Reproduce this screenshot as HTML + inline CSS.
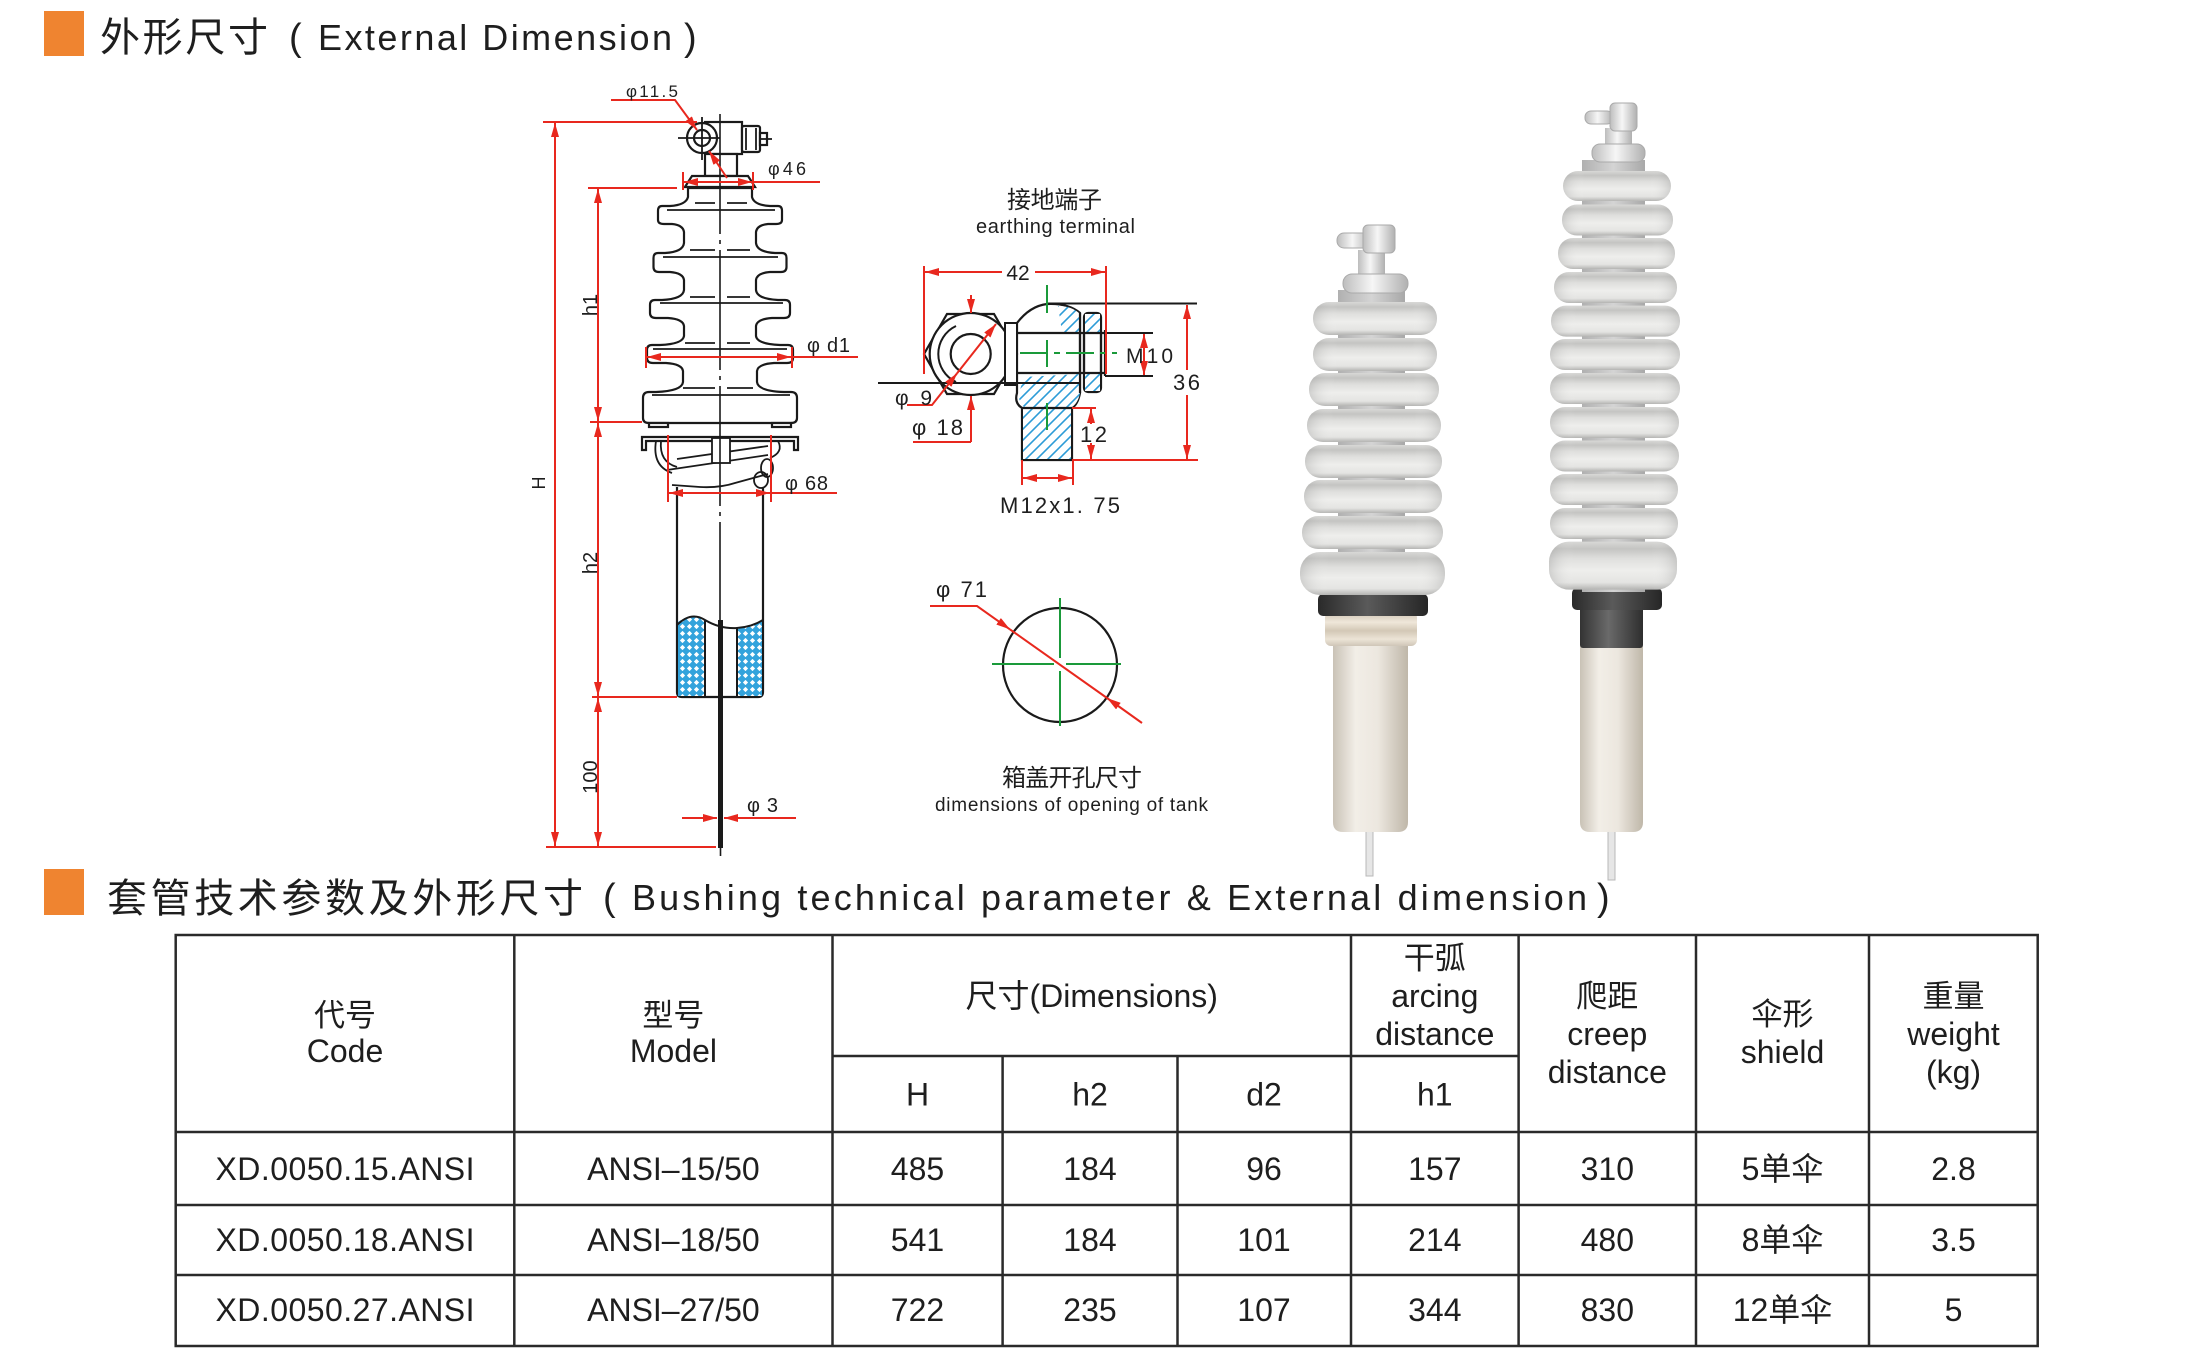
<!DOCTYPE html>
<html><head><meta charset="utf-8">
<style>
html,body{margin:0;padding:0;background:#fff;}
svg{display:block;}
text{font-family:"Liberation Sans","Noto Sans CJK SC",sans-serif;fill:#1e1e1e;}
</style></head><body>
<svg width="2205" height="1372" viewBox="0 0 2205 1372" xmlns="http://www.w3.org/2000/svg">
<defs>
<marker id="a" viewBox="0 0 14 8" refX="14" refY="4" markerWidth="14" markerHeight="8" markerUnits="userSpaceOnUse" orient="auto-start-reverse"><path d="M0,0 L14,4 L0,8 z" fill="#e8281e"/></marker>
<pattern id="xh" width="7" height="7" patternUnits="userSpaceOnUse"><rect width="7" height="7" fill="#33a3dc"/><path d="M3.5,0.9 L6.1,3.5 L3.5,6.1 L0.9,3.5 Z" fill="#fff"/></pattern>
<pattern id="dh" width="11" height="11" patternUnits="userSpaceOnUse"><rect width="11" height="11" fill="#fff"/><path d="M0,11 L11,0 M-2,2 L2,-2 M9,13 L13,9" stroke="#2d9cd7" stroke-width="1.6"/></pattern>
<linearGradient id="gShed" x1="0" y1="0" x2="0" y2="1">
<stop offset="0" stop-color="#d8d8d6"/><stop offset="0.15" stop-color="#c4c4c2"/><stop offset="0.35" stop-color="#dfdfdd"/><stop offset="0.6" stop-color="#eeeeec"/><stop offset="0.85" stop-color="#e4e4e2"/><stop offset="1" stop-color="#b4b4b2"/>
</linearGradient>
<linearGradient id="gSide" x1="0" y1="0" x2="1" y2="0">
<stop offset="0" stop-color="#888" stop-opacity="0.3"/><stop offset="0.2" stop-color="#fff" stop-opacity="0"/><stop offset="0.8" stop-color="#fff" stop-opacity="0"/><stop offset="1" stop-color="#888" stop-opacity="0.3"/>
</linearGradient>
<linearGradient id="gCore" x1="0" y1="0" x2="1" y2="0">
<stop offset="0" stop-color="#b0b0b0"/><stop offset="0.5" stop-color="#d4d4d4"/><stop offset="1" stop-color="#a8a8a8"/>
</linearGradient>
<linearGradient id="gTube" x1="0" y1="0" x2="1" y2="0">
<stop offset="0" stop-color="#c9c2b6"/><stop offset="0.3" stop-color="#f2eee7"/><stop offset="0.6" stop-color="#ece7df"/><stop offset="1" stop-color="#bfb7a9"/>
</linearGradient>
<linearGradient id="gThread" x1="0" y1="0" x2="0" y2="1">
<stop offset="0" stop-color="#cfc4b2"/><stop offset="0.3" stop-color="#efe7da"/><stop offset="0.55" stop-color="#d3c8b6"/><stop offset="0.8" stop-color="#ece4d6"/><stop offset="1" stop-color="#cfc6b8"/>
</linearGradient>
<linearGradient id="gDark" x1="0" y1="0" x2="1" y2="0">
<stop offset="0" stop-color="#2a2a2a"/><stop offset="0.45" stop-color="#5a5a5a"/><stop offset="1" stop-color="#262626"/>
</linearGradient>
<linearGradient id="gDark2" x1="0" y1="0" x2="1" y2="0">
<stop offset="0" stop-color="#333"/><stop offset="0.45" stop-color="#6a6a6a"/><stop offset="1" stop-color="#2e2e2e"/>
</linearGradient>
<linearGradient id="gMetal" x1="0" y1="0" x2="1" y2="0">
<stop offset="0" stop-color="#bdbdbd"/><stop offset="0.45" stop-color="#f6f6f6"/><stop offset="1" stop-color="#b0b0b0"/>
</linearGradient>
</defs>

<!-- ===== Titles ===== -->
<rect x="44" y="11" width="40" height="45" fill="#ef8430"/>
<text x="100" y="51" font-size="40" textLength="168">外形尺寸</text>
<text x="289" y="50" font-size="38">(</text>
<text x="318" y="50" font-size="36" textLength="354">External Dimension</text>
<text x="684" y="50" font-size="38">)</text>

<rect x="44" y="869" width="40" height="46" fill="#ef8430"/>
<text x="107" y="912" font-size="40" textLength="476">套管技术参数及外形尺寸</text>
<text x="603" y="910" font-size="38">(</text>
<text x="632" y="910" font-size="36" textLength="955">Bushing technical parameter &amp; External dimension</text>
<text x="1597" y="910" font-size="38">)</text>

<!-- ===== Left drawing: bushing ===== -->
<g stroke="#1a1a1a" stroke-width="2.2" fill="#fff">
<rect x="705" y="122" width="37" height="32"/>
<rect x="742" y="126" width="18" height="26" rx="2"/>
<rect x="760" y="133" width="7" height="12"/>
<rect x="705" y="154" width="32" height="22"/>
<circle cx="702" cy="138" r="15"/>
<circle cx="702" cy="138" r="8"/>
<path d="M692 176 L748 176 Q752 182 755 187 L685 187 Q688 182 692 176 Z"/>
<path d="M688 188 L752 188 L752 197 Q754 205 770 206 L778 206 Q782 206 782 211 L782 220 Q782 224 776 224 L768 224 Q757 225 756 232 L756 243 Q757 252 775 253 L782 253 Q786.5 253 786.5 258 L786.5 267 Q786.5 272 781 272 L770 272 Q757 273 756 280 L756 290 Q757 299 778 300 L785 300 Q790 300 790 305 L790 313 Q790 318 784 318 L772 318 Q757 319 756 326 L756 336 Q757 344 780 345 L788 345 Q793 345 793 350 L793 358 Q793 363 787 363 L774 363 Q758 364 757 371 L757 382 Q758 391 784 392 L791 392 Q797 392 797 398 L797 418 Q797 423 791 423 L649 423 Q643 423 643 418 L643 398 Q643 392 649 392 L656 392 Q682 391 683 382 L683 371 Q682 364 666 363 L653 363 Q647 363 647 358 L647 350 Q647 345 652 345 L660 345 Q683 344 684 336 L684 326 Q683 319 668 318 L656 318 Q650 318 650 313 L650 305 Q650 300 655 300 L662 300 Q683 299 684 290 L684 280 Q683 273 670 272 L659 272 Q653.5 272 653.5 267 L653.5 258 Q653.5 253 658 253 L665 253 Q683 252 684 243 L684 232 Q683 225 672 224 L664 224 Q658 224 658 220 L658 211 Q658 206 662 206 L670 206 Q686 205 688 197 Z"/>
<rect x="649" y="423" width="19" height="4"/>
<rect x="772" y="423" width="19" height="4"/>
<path d="M642 450 L642 437 L798 437 L798 450 L794 450 L794 441 L646 441 L646 450 Z"/>
<path d="M677 487 L677 692 Q677 697 682 697 L758 697 Q763 697 763 692 L763 487"/>
</g>
<g stroke="#1a1a1a" stroke-width="1.8" fill="none">
<line x1="678" y1="138" x2="720" y2="138"/>
<line x1="702" y1="117" x2="702" y2="160"/>
<line x1="760" y1="139" x2="772" y2="139"/>
<line x1="746" y1="128" x2="746" y2="150"/>
<line x1="756" y1="128" x2="756" y2="150"/>
<path d="M695 203 L715 203 M727 203 L747 203 M667 210 L775 210"/>
<path d="M690 250 L715 250 M727 250 L750 250 M663 257 L778 257"/>
<path d="M690 297 L715 297 M727 297 L750 297 M660 303 L783 303"/>
<path d="M685 343 L715 343 M727 343 L750 343 M653 349 L787 349"/>
<path d="M683 388 L715 388 M727 388 L753 388 M652 395 L790 395"/>
<path d="M656 441 Q652 466 672 473"/>
<path d="M661 441 Q659 462 677 467"/>
<line x1="677" y1="459" x2="768" y2="446"/>
<line x1="667" y1="470" x2="768" y2="455"/>
<path d="M672 485 L700 487 Q720 488 735 483 L768 474"/>
<path d="M778 441 Q784 452 770 458"/>
<ellipse cx="767" cy="468" rx="6" ry="9"/>
<ellipse cx="761" cy="480" rx="7" ry="8"/>
</g>
<rect x="712" y="438" width="18" height="25" fill="#fff" stroke="#1a1a1a" stroke-width="1.8"/>
<path d="M678 622 Q690 612 705 621 L705 696 L678 696 Z" fill="url(#xh)"/>
<path d="M737 628 Q750 627 762 620 L762 696 L737 696 Z" fill="url(#xh)"/>
<g stroke="#1a1a1a" stroke-width="2" fill="none">
<path d="M677 625 Q691 611 705 620 Q720 629 737 628 Q752 627 763 620"/>
<line x1="705" y1="620" x2="705" y2="697"/>
<line x1="737" y1="628" x2="737" y2="697"/>
</g>
<line x1="720" y1="114" x2="720" y2="620" stroke="#1a1a1a" stroke-width="1.6" stroke-dasharray="120 6 4 6"/>
<rect x="718" y="620" width="5" height="228" fill="#1a1a1a"/>
<line x1="720.5" y1="848" x2="720.5" y2="856" stroke="#1a1a1a" stroke-width="1.6"/>

<g fill="none" stroke="#e8281e" stroke-width="2">
<line x1="543" y1="122" x2="697" y2="122"/>
<line x1="555" y1="123" x2="555" y2="846" marker-start="url(#a)" marker-end="url(#a)"/>
<line x1="546" y1="847" x2="716" y2="847"/>
<line x1="588" y1="188" x2="677" y2="188"/>
<line x1="598" y1="189" x2="598" y2="421" marker-start="url(#a)" marker-end="url(#a)"/>
<line x1="590" y1="422" x2="642" y2="422"/>
<line x1="598" y1="423" x2="598" y2="696" marker-start="url(#a)" marker-end="url(#a)"/>
<line x1="592" y1="697" x2="677" y2="697"/>
<line x1="598" y1="698" x2="598" y2="846" marker-start="url(#a)" marker-end="url(#a)"/>
<polyline points="611,100 675,100 697,130" marker-end="url(#a)"/>
<line x1="727" y1="178" x2="709" y2="151" marker-end="url(#a)"/>
<line x1="683" y1="172" x2="683" y2="190"/>
<line x1="753" y1="172" x2="753" y2="190"/>
<line x1="684" y1="182" x2="752" y2="182" marker-start="url(#a)" marker-end="url(#a)"/>
<line x1="753" y1="182" x2="820" y2="182"/>
<line x1="646" y1="347" x2="646" y2="368"/>
<line x1="792" y1="347" x2="792" y2="368"/>
<line x1="647" y1="357" x2="791" y2="357" marker-start="url(#a)" marker-end="url(#a)"/>
<line x1="792" y1="357" x2="858" y2="357"/>
<line x1="668" y1="435" x2="668" y2="502"/>
<line x1="771" y1="435" x2="771" y2="502"/>
<line x1="669" y1="493" x2="770" y2="493" marker-start="url(#a)" marker-end="url(#a)"/>
<line x1="771" y1="493" x2="837" y2="493"/>
<line x1="682" y1="818" x2="717" y2="818" marker-end="url(#a)"/>
<line x1="796" y1="818" x2="724" y2="818" marker-end="url(#a)"/>
</g>
<text x="626" y="97" font-size="17" textLength="52">φ11.5</text>
<text x="768" y="175" font-size="18" textLength="38">φ46</text>
<text x="807" y="352" font-size="20" textLength="43">φ d1</text>
<text x="785" y="490" font-size="20" textLength="43">φ 68</text>
<text x="747" y="812" font-size="20" textLength="31">φ 3</text>
<text transform="translate(545,483) rotate(-90)" font-size="18" text-anchor="middle">H</text>
<text transform="translate(597,305) rotate(-90)" font-size="20" text-anchor="middle">h1</text>
<text transform="translate(597,563) rotate(-90)" font-size="20" text-anchor="middle">h2</text>
<text transform="translate(597,777) rotate(-90)" font-size="20" text-anchor="middle">100</text>

<!-- ===== Earthing terminal ===== -->
<text x="1007" y="208" font-size="24" textLength="95">接地端子</text>
<text x="976" y="233" font-size="20" textLength="159">earthing terminal</text>
<g stroke="#1a1a1a" stroke-width="2.2" fill="#fff">
<path d="M1017 323 Q1030 306 1047 304 Q1068 303 1080 313 L1080 393 Q1078 404 1072 408 L1072 460 L1022 460 L1022 408 Q1014 403 1017 393 Z"/>
</g>
<path d="M1058 306 Q1072 306 1080 314 L1080 332 L1062 332 Z" fill="url(#dh)"/>
<path d="M1024 377 L1080 374 L1080 393 Q1078 403 1072 407 L1024 407 Q1018 402 1019 393 Z" fill="url(#dh)"/>
<path d="M1023 409 L1071 409 L1071 459 L1023 459 Z" fill="url(#dh)"/>
<g stroke="#1a1a1a" stroke-width="2.2" fill="#fff">
<rect x="1084" y="313" width="17" height="79" rx="4"/>
</g>
<rect x="1085" y="314" width="15" height="18" fill="url(#dh)"/>
<rect x="1085" y="374" width="15" height="17" fill="url(#dh)"/>
<g stroke="#1a1a1a" stroke-width="2.2" fill="none">
<line x1="1022" y1="408" x2="1072" y2="408"/>
<line x1="1080" y1="313" x2="1080" y2="393"/>
<line x1="1005" y1="333" x2="1105" y2="333"/>
<line x1="1005" y1="373" x2="1105" y2="373"/>
<line x1="1105" y1="330" x2="1105" y2="376"/>
<line x1="1084" y1="333" x2="1084" y2="373"/>
<line x1="1101" y1="333" x2="1101" y2="373"/>
</g>
<polygon points="924,354 947,314 994,314 1017,354 994,394 947,394" fill="#fff" stroke="#1a1a1a" stroke-width="2.2"/>
<circle cx="970.7" cy="354" r="41" fill="#fff" stroke="#1a1a1a" stroke-width="2.2"/>
<path d="M956 326 A31 31 0 0 0 956 382" fill="none" stroke="#1a1a1a" stroke-width="2"/>
<circle cx="970.7" cy="354" r="20" fill="#fff" stroke="#1a1a1a" stroke-width="2.2"/>
<rect x="1005" y="323" width="12" height="62" fill="#fff" stroke="#1a1a1a" stroke-width="2"/>
<line x1="878" y1="383" x2="1080" y2="383" stroke="#1a1a1a" stroke-width="2"/>
<g stroke="#1a1a1a" stroke-width="2">
<line x1="1047" y1="303.5" x2="1197" y2="303.5"/>
<line x1="1105" y1="333" x2="1153" y2="333"/>
<line x1="1105" y1="376" x2="1153" y2="376"/>
</g>
<g stroke="#1a9a3a" stroke-width="2" fill="none">
<line x1="1047" y1="285" x2="1047" y2="313"/>
<line x1="1020" y1="353" x2="1117" y2="353" stroke-dasharray="28 6 6 6"/>
<line x1="1047" y1="340" x2="1047" y2="367"/>
<line x1="1047" y1="403" x2="1047" y2="430"/>
</g>
<g fill="none" stroke="#e8281e" stroke-width="2">
<line x1="924" y1="266" x2="924" y2="374"/>
<line x1="1106" y1="266" x2="1106" y2="374"/>
<line x1="925" y1="272" x2="1002" y2="272" marker-start="url(#a)"/>
<line x1="1035" y1="272" x2="1105" y2="272" marker-end="url(#a)"/>
<line x1="1144" y1="334" x2="1144" y2="375" marker-start="url(#a)" marker-end="url(#a)"/>
<line x1="1187" y1="305" x2="1187" y2="370" marker-start="url(#a)"/>
<line x1="1187" y1="395" x2="1187" y2="459" marker-end="url(#a)"/>
<line x1="1072" y1="460" x2="1198" y2="460"/>
<line x1="1072" y1="408" x2="1096" y2="408"/>
<line x1="1091" y1="409" x2="1091" y2="424" marker-start="url(#a)"/>
<line x1="1091" y1="443" x2="1091" y2="459" marker-end="url(#a)"/>
<line x1="1022" y1="460" x2="1022" y2="485"/>
<line x1="1073" y1="460" x2="1073" y2="485"/>
<line x1="1023" y1="478" x2="1072" y2="478" marker-start="url(#a)" marker-end="url(#a)"/>
<line x1="971" y1="295" x2="971" y2="313" marker-end="url(#a)"/>
<line x1="971" y1="442" x2="971" y2="396" marker-end="url(#a)"/>
<line x1="913" y1="442" x2="971" y2="442"/>
<polyline points="907,405 932,405 957,373.4" marker-end="url(#a)"/>
<line x1="957" y1="373.4" x2="996" y2="324" marker-end="url(#a)"/>
</g>
<text x="1018" y="280" font-size="21" text-anchor="middle">42</text>
<text x="1126" y="363" font-size="21" textLength="47">M10</text>
<text x="1173" y="390" font-size="22" textLength="27">36</text>
<text x="1080" y="442" font-size="22" textLength="27">12</text>
<text x="895" y="405" font-size="21" textLength="37">φ 9</text>
<text x="912" y="435" font-size="22" textLength="51">φ 18</text>
<text x="1000" y="513" font-size="22" textLength="120">M12x1. 75</text>

<!-- ===== Tank opening ===== -->
<circle cx="1060" cy="665" r="57" fill="none" stroke="#1a1a1a" stroke-width="2.2"/>
<g stroke="#1a9a3a" stroke-width="2">
<line x1="1060" y1="598" x2="1060" y2="658"/>
<line x1="1060" y1="671" x2="1060" y2="726"/>
<line x1="992" y1="664" x2="1054" y2="664"/>
<line x1="1066" y1="664" x2="1121" y2="664"/>
</g>
<g fill="none" stroke="#e8281e" stroke-width="2">
<polyline points="930,606 977,606 1010,629.4" marker-end="url(#a)"/>
<line x1="1010" y1="629.4" x2="1107" y2="698"/>
<line x1="1142" y1="723" x2="1107" y2="698" marker-end="url(#a)"/>
</g>
<text x="936" y="597" font-size="22" textLength="51">φ 71</text>
<text x="1002" y="786" font-size="24" textLength="140">箱盖开孔尺寸</text>
<text x="935" y="811" font-size="19" textLength="273">dimensions of opening of tank</text>

<!-- ===== Photo: left bushing ===== -->
<rect x="1366" y="828" width="7" height="48" fill="#e6e6e6" stroke="#b8b8b8" stroke-width="1"/>
<path d="M1333 641 L1408 641 L1408 822 Q1408 832 1398 832 L1343 832 Q1333 832 1333 822 Z" fill="url(#gTube)"/>
<rect x="1325" y="612" width="92" height="34" rx="6" fill="url(#gThread)"/>
<rect x="1318" y="594" width="110" height="22" rx="5" fill="url(#gDark)"/>
<rect x="1338" y="290" width="67" height="305" fill="url(#gCore)"/>
<rect x="1358" y="250" width="27" height="28" fill="url(#gMetal)"/>
<rect x="1337" y="233" width="34" height="15" rx="7" fill="url(#gMetal)" stroke="#aaa" stroke-width="1"/>
<rect x="1363" y="225" width="32" height="28" rx="5" fill="url(#gMetal)" stroke="#aaa" stroke-width="1"/>
<rect x="1343" y="274" width="65" height="19" rx="9" fill="url(#gMetal)" stroke="#aaa" stroke-width="1"/>
<g>
<rect x="1300" y="552" width="145" height="43" rx="20" fill="url(#gShed)"/><rect x="1300" y="552" width="145" height="43" rx="20" fill="url(#gSide)"/>
<rect x="1302" y="516" width="141" height="33" rx="16" fill="url(#gShed)"/><rect x="1302" y="516" width="141" height="33" rx="16" fill="url(#gSide)"/>
<rect x="1304" y="480" width="138" height="33" rx="16" fill="url(#gShed)"/><rect x="1304" y="480" width="138" height="33" rx="16" fill="url(#gSide)"/>
<rect x="1305" y="445" width="137" height="33" rx="16" fill="url(#gShed)"/><rect x="1305" y="445" width="137" height="33" rx="16" fill="url(#gSide)"/>
<rect x="1307" y="409" width="134" height="33" rx="16" fill="url(#gShed)"/><rect x="1307" y="409" width="134" height="33" rx="16" fill="url(#gSide)"/>
<rect x="1309" y="373" width="130" height="33" rx="16" fill="url(#gShed)"/><rect x="1309" y="373" width="130" height="33" rx="16" fill="url(#gSide)"/>
<rect x="1313" y="338" width="124" height="33" rx="16" fill="url(#gShed)"/><rect x="1313" y="338" width="124" height="33" rx="16" fill="url(#gSide)"/>
<rect x="1313" y="302" width="124" height="33" rx="16" fill="url(#gShed)"/><rect x="1313" y="302" width="124" height="33" rx="16" fill="url(#gSide)"/>
</g>

<!-- ===== Photo: right bushing ===== -->
<rect x="1608" y="828" width="7" height="52" fill="#e6e6e6" stroke="#b8b8b8" stroke-width="1"/>
<path d="M1580 646 L1643 646 L1643 822 Q1643 832 1633 832 L1590 832 Q1580 832 1580 822 Z" fill="url(#gTube)"/>
<rect x="1580" y="606" width="63" height="42" rx="3" fill="url(#gDark2)"/>
<rect x="1572" y="588" width="90" height="22" rx="5" fill="url(#gDark)"/>
<rect x="1582" y="160" width="63" height="432" fill="url(#gCore)"/>
<rect x="1605" y="128" width="27" height="20" fill="url(#gMetal)"/>
<rect x="1585" y="111" width="28" height="13" rx="6" fill="url(#gMetal)" stroke="#aaa" stroke-width="1"/>
<rect x="1610" y="103" width="27" height="28" rx="5" fill="url(#gMetal)" stroke="#aaa" stroke-width="1"/>
<rect x="1592" y="144" width="53" height="18" rx="8" fill="url(#gMetal)" stroke="#aaa" stroke-width="1"/>
<g>
<rect x="1549" y="541.6" width="128" height="48" rx="20" fill="url(#gShed)"/><rect x="1549" y="541.6" width="128" height="48" rx="20" fill="url(#gSide)"/>
<rect x="1550" y="508" width="128" height="31" rx="15" fill="url(#gShed)"/><rect x="1550" y="508" width="128" height="31" rx="15" fill="url(#gSide)"/>
<rect x="1550" y="474" width="128" height="31" rx="15" fill="url(#gShed)"/><rect x="1550" y="474" width="128" height="31" rx="15" fill="url(#gSide)"/>
<rect x="1550" y="440.5" width="129" height="31" rx="15" fill="url(#gShed)"/><rect x="1550" y="440.5" width="129" height="31" rx="15" fill="url(#gSide)"/>
<rect x="1550" y="407" width="129" height="31" rx="15" fill="url(#gShed)"/><rect x="1550" y="407" width="129" height="31" rx="15" fill="url(#gSide)"/>
<rect x="1550" y="373" width="130" height="31" rx="15" fill="url(#gShed)"/><rect x="1550" y="373" width="130" height="31" rx="15" fill="url(#gSide)"/>
<rect x="1550" y="339" width="130" height="31" rx="15" fill="url(#gShed)"/><rect x="1550" y="339" width="130" height="31" rx="15" fill="url(#gSide)"/>
<rect x="1551" y="305.6" width="129" height="31" rx="15" fill="url(#gShed)"/><rect x="1551" y="305.6" width="129" height="31" rx="15" fill="url(#gSide)"/>
<rect x="1554" y="272" width="123" height="31" rx="15" fill="url(#gShed)"/><rect x="1554" y="272" width="123" height="31" rx="15" fill="url(#gSide)"/>
<rect x="1558" y="238" width="117" height="31" rx="15" fill="url(#gShed)"/><rect x="1558" y="238" width="117" height="31" rx="15" fill="url(#gSide)"/>
<rect x="1562" y="204.5" width="111" height="31" rx="15" fill="url(#gShed)"/><rect x="1562" y="204.5" width="111" height="31" rx="15" fill="url(#gSide)"/>
<rect x="1563" y="171" width="108" height="30" rx="15" fill="url(#gShed)"/><rect x="1563" y="171" width="108" height="30" rx="15" fill="url(#gSide)"/>
</g>

<!-- ===== Table ===== -->
<g stroke="#2a2a2a" stroke-width="2.5" fill="none">
<rect x="175.7" y="935" width="1862" height="411"/>
<line x1="175.7" y1="1132" x2="2037.7" y2="1132"/>
<line x1="175.7" y1="1205" x2="2037.7" y2="1205"/>
<line x1="175.7" y1="1275" x2="2037.7" y2="1275"/>
<line x1="832.5" y1="1056" x2="1518.6" y2="1056"/>
<line x1="514.3" y1="935" x2="514.3" y2="1346"/>
<line x1="832.5" y1="935" x2="832.5" y2="1346"/>
<line x1="1002.6" y1="1056" x2="1002.6" y2="1346"/>
<line x1="1177.5" y1="1056" x2="1177.5" y2="1346"/>
<line x1="1351" y1="935" x2="1351" y2="1346"/>
<line x1="1518.6" y1="935" x2="1518.6" y2="1346"/>
<line x1="1696" y1="935" x2="1696" y2="1346"/>
<line x1="1869" y1="935" x2="1869" y2="1346"/>
</g>
<g font-size="32" text-anchor="middle">
<text x="345" y="1026" font-size="31">代号</text>
<text x="345" y="1062">Code</text>
<text x="673.4" y="1026" font-size="31">型号</text>
<text x="673.4" y="1062">Model</text>
<text x="1091.7" y="1007">尺寸(Dimensions)</text>
<text x="1434.8" y="969" font-size="31">干弧</text>
<text x="1434.8" y="1007">arcing</text>
<text x="1434.8" y="1045">distance</text>
<text x="1607.3" y="1007" font-size="31">爬距</text>
<text x="1607.3" y="1045">creep</text>
<text x="1607.3" y="1083">distance</text>
<text x="1782.5" y="1025" font-size="31">伞形</text>
<text x="1782.5" y="1063">shield</text>
<text x="1953.5" y="1007" font-size="31">重量</text>
<text x="1953.5" y="1045">weight</text>
<text x="1953.5" y="1083">(kg)</text>
<text x="917.5" y="1105.5">H</text>
<text x="1090" y="1105.5">h2</text>
<text x="1264" y="1105.5">d2</text>
<text x="1434.8" y="1105.5">h1</text>

<text x="345" y="1180" textLength="259">XD.0050.15.ANSI</text>
<text x="673.4" y="1180">ANSI–15/50</text>
<text x="917.5" y="1180">485</text>
<text x="1090" y="1180">184</text>
<text x="1264" y="1180">96</text>
<text x="1434.8" y="1180">157</text>
<text x="1607.3" y="1180">310</text>
<text x="1782.5" y="1180">5单伞</text>
<text x="1953.5" y="1180">2.8</text>

<text x="345" y="1251" textLength="259">XD.0050.18.ANSI</text>
<text x="673.4" y="1251">ANSI–18/50</text>
<text x="917.5" y="1251">541</text>
<text x="1090" y="1251">184</text>
<text x="1264" y="1251">101</text>
<text x="1434.8" y="1251">214</text>
<text x="1607.3" y="1251">480</text>
<text x="1782.5" y="1251">8单伞</text>
<text x="1953.5" y="1251">3.5</text>

<text x="345" y="1321" textLength="259">XD.0050.27.ANSI</text>
<text x="673.4" y="1321">ANSI–27/50</text>
<text x="917.5" y="1321">722</text>
<text x="1090" y="1321">235</text>
<text x="1264" y="1321">107</text>
<text x="1434.8" y="1321">344</text>
<text x="1607.3" y="1321">830</text>
<text x="1782.5" y="1321">12单伞</text>
<text x="1953.5" y="1321">5</text>
</g>
</svg>
</body></html>
